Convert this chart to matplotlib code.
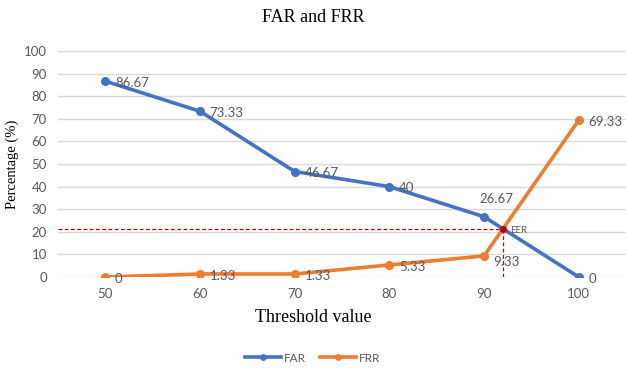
import matplotlib.pyplot as plt
import numpy as np

thresholds = [50, 60, 70, 80, 90, 100]
far = [86.67, 73.33, 46.67, 40, 26.67, 0]
frr = [0, 1.33, 1.33, 5.33, 9.33, 69.33]

BLUE = "#4472C4"
ORANGE = "#ED7D31"
GREY_TXT = "#595959"

# EER: crossing of the two curves on the last segment (90 -> 100)
d0 = far[4] - frr[4]
d1 = far[5] - frr[5]
t = d0 / (d0 - d1)
eer_x = thresholds[4] + t * (thresholds[5] - thresholds[4])
eer_y = far[4] + t * (far[5] - far[4])

fig = plt.figure(figsize=(6.26, 3.68), dpi=100)
ax = fig.add_axes([58 / 626, 1 - 277 / 368, 1 - 58 / 626, (277 - 51) / 368])

ax.set_xlim(45, 105)
ax.set_ylim(0, 100)
ax.set_yticks(range(0, 101, 10))
ax.set_xticks(thresholds)
ax.yaxis.grid(True, color="#d9d9d9", linewidth=1)
ax.set_axisbelow(True)
for s in ax.spines.values():
    s.set_visible(False)
ax.tick_params(length=0, labelsize=9.5, labelcolor=GREY_TXT, pad=8)
for lab in ax.get_xticklabels() + ax.get_yticklabels():
    lab.set_fontfamily("Lato")

ax.plot(thresholds, far, color=BLUE, lw=2.6, marker="o", ms=5.5, label="FAR", zorder=3)
ax.plot(thresholds, frr, color=ORANGE, lw=2.6, marker="o", ms=5.5, label="FRR", zorder=3)

# EER guide lines
ax.plot([45, eer_x], [eer_y, eer_y], color="#C00000", ls=(0, (3, 2)), lw=0.9, zorder=2)
ax.plot([eer_x, eer_x], [0, eer_y], color="#C00000", ls=(0, (3, 2)), lw=0.9, zorder=2)
ax.plot(eer_x, eer_y, "o", color="#C00000", ms=4, zorder=5)
ax.annotate("EER", (eer_x, eer_y), xytext=(5, -3), textcoords="offset points",
            fontsize=7, color=GREY_TXT, family="Lato")

# data labels
def fmt(v):
    return f"{v:g}"

for i, (x, v) in enumerate(zip(thresholds, far)):
    off = (-3, 10) if i == 4 else (7, -4)
    ax.annotate(fmt(v), (x, v), xytext=off, textcoords="offset points",
                fontsize=9.5, color=GREY_TXT, family="Lato")
for i, (x, v) in enumerate(zip(thresholds, frr)):
    off = (7, -4) if i != 4 else (7, -7)
    ax.annotate(fmt(v), (x, v), xytext=off, textcoords="offset points",
                fontsize=9.5, color=GREY_TXT, family="Lato")

fig.text(0.5, 1 - 18 / 368, "FAR and FRR", ha="center", va="center",
         fontsize=13, family="Liberation Serif")
fig.text(0.5, 1 - 318 / 368, "Threshold value", ha="center", va="center",
         fontsize=13, family="Liberation Serif")
fig.text(12 / 626, 1 - 164 / 368, "Percentage (%)", ha="center", va="center",
         rotation=90, fontsize=10.5, family="Liberation Serif")

leg = fig.legend(loc="center", bbox_to_anchor=(0.5, 1 - 358 / 368), ncol=2,
                 frameon=False, handlelength=3, columnspacing=1.2,
                 handletextpad=0.3, markerscale=0.7,
                 prop={"family": "Lato", "size": 8.5})
for txt in leg.get_texts():
    txt.set_color(GREY_TXT)

fig.savefig("out.png", dpi=100)
